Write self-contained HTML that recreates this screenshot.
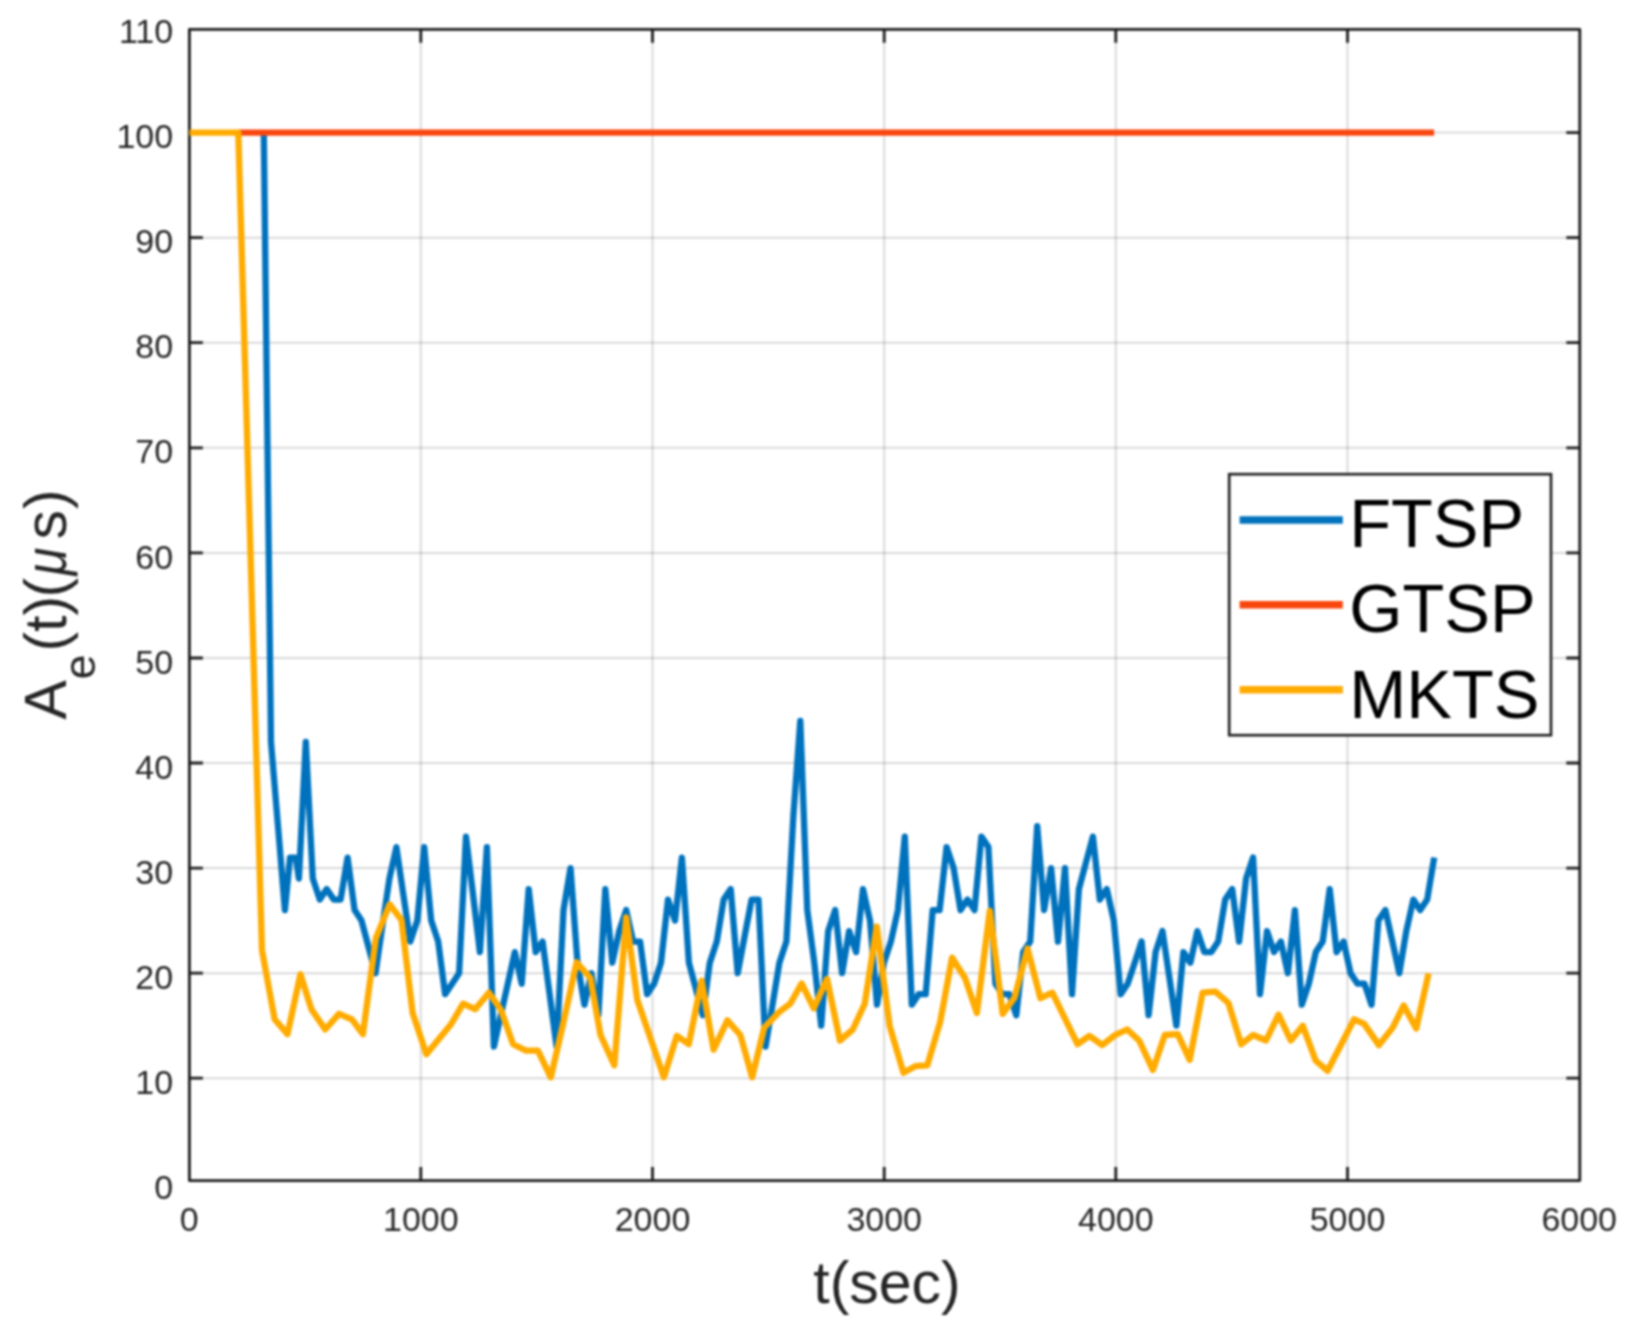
<!DOCTYPE html>
<html lang="en"><head><meta charset="utf-8"><title>Synchronization error: FTSP vs GTSP vs MKTS</title>
<style>html,body{margin:0;padding:0;background:#fff}svg{display:block}text{font-family:"Liberation Sans",Arial,Helvetica,sans-serif}</style></head><body>
<svg width="1632" height="1332" viewBox="0 0 1632 1332">
<defs><filter id="soft" x="0" y="0" width="1632" height="1332" filterUnits="userSpaceOnUse"><feGaussianBlur stdDeviation="0.75"/></filter></defs>
<rect width="1632" height="1332" fill="#fff"/>
<g style="filter:blur(0.8px)">
<rect width="1632" height="1332" fill="#fff"/>
<g stroke="#000" stroke-opacity="0.15" stroke-width="2" fill="none">
<line x1="420.8" y1="29.3" x2="420.8" y2="1180.6"/>
<line x1="652.5" y1="29.3" x2="652.5" y2="1180.6"/>
<line x1="884.2" y1="29.3" x2="884.2" y2="1180.6"/>
<line x1="1115.8" y1="29.3" x2="1115.8" y2="1180.6"/>
<line x1="1347.5" y1="29.3" x2="1347.5" y2="1180.6"/>
<line x1="189.4" y1="1078.2" x2="1579.8" y2="1078.2"/>
<line x1="189.4" y1="973.2" x2="1579.8" y2="973.2"/>
<line x1="189.4" y1="868.1" x2="1579.8" y2="868.1"/>
<line x1="189.4" y1="763.0" x2="1579.8" y2="763.0"/>
<line x1="189.4" y1="658.0" x2="1579.8" y2="658.0"/>
<line x1="189.4" y1="552.9" x2="1579.8" y2="552.9"/>
<line x1="189.4" y1="447.8" x2="1579.8" y2="447.8"/>
<line x1="189.4" y1="342.7" x2="1579.8" y2="342.7"/>
<line x1="189.4" y1="237.7" x2="1579.8" y2="237.7"/>
<line x1="189.4" y1="132.6" x2="1579.8" y2="132.6"/>
</g>
<g stroke="#1c1c1c" stroke-width="2.8" fill="none" stroke-linejoin="round">
<rect x="189.4" y="29.3" width="1390.4" height="1151.3"/>
<path d="M420.8,1180.6v-13.5 M420.8,29.3v13.5"/>
<path d="M652.5,1180.6v-13.5 M652.5,29.3v13.5"/>
<path d="M884.2,1180.6v-13.5 M884.2,29.3v13.5"/>
<path d="M1115.8,1180.6v-13.5 M1115.8,29.3v13.5"/>
<path d="M1347.5,1180.6v-13.5 M1347.5,29.3v13.5"/>
<path d="M189.4,1078.2h13.5 M1579.8,1078.2h-13.5"/>
<path d="M189.4,973.2h13.5 M1579.8,973.2h-13.5"/>
<path d="M189.4,868.1h13.5 M1579.8,868.1h-13.5"/>
<path d="M189.4,763.0h13.5 M1579.8,763.0h-13.5"/>
<path d="M189.4,658.0h13.5 M1579.8,658.0h-13.5"/>
<path d="M189.4,552.9h13.5 M1579.8,552.9h-13.5"/>
<path d="M189.4,447.8h13.5 M1579.8,447.8h-13.5"/>
<path d="M189.4,342.7h13.5 M1579.8,342.7h-13.5"/>
<path d="M189.4,237.7h13.5 M1579.8,237.7h-13.5"/>
<path d="M189.4,132.6h13.5 M1579.8,132.6h-13.5"/>
</g>
<g fill="none" stroke-width="6.3" stroke-linejoin="round" stroke-linecap="butt">
<polyline stroke="#0072BD" points="263.8,132.6 271.0,742.0 278.0,826.1 284.9,910.1 290.0,857.6 295.8,857.6 298.9,878.6 305.8,742.0 312.8,878.6 319.8,899.6 326.7,889.1 333.7,899.6 340.6,899.6 347.6,857.6 354.6,910.1 361.5,920.6 368.5,946.9 375.5,973.2 382.4,925.9 389.4,878.6 396.4,847.1 403.3,894.4 410.3,941.6 417.3,920.6 424.2,847.1 431.2,920.6 438.2,941.6 445.1,994.2 452.1,983.7 459.1,973.2 466.0,836.6 473.0,894.4 479.9,952.1 486.9,847.1 493.9,1046.7 500.8,1015.2 507.8,983.7 514.8,952.1 521.7,983.7 528.7,889.1 535.7,952.1 542.6,941.6 549.6,994.2 556.6,1046.7 563.5,910.1 570.5,868.1 577.5,962.7 584.4,1004.7 591.4,973.2 598.4,1015.2 605.3,889.1 612.3,962.7 619.2,931.1 626.2,910.1 633.2,941.6 640.1,941.6 647.1,994.2 654.1,983.7 661.0,962.7 668.0,899.6 675.0,920.6 681.9,857.6 688.9,962.7 695.9,988.9 702.8,1015.2 709.8,962.7 716.8,941.6 723.7,899.6 730.7,889.1 737.7,973.2 744.6,936.4 751.6,899.6 758.5,899.6 765.5,1046.7 772.5,1004.7 779.4,962.7 786.4,941.6 793.4,815.6 800.3,721.0 807.3,910.1 814.3,962.7 821.2,1025.7 828.2,931.1 835.2,910.1 842.1,973.2 849.1,931.1 856.1,952.1 863.0,889.1 870.0,920.6 877.0,1004.7 883.9,962.7 890.9,941.6 897.9,910.1 904.8,836.6 911.8,1004.7 918.7,994.2 925.7,994.2 932.7,910.1 939.6,910.1 946.6,847.1 953.6,868.1 960.5,910.1 967.5,899.6 974.5,910.1 981.4,836.6 988.4,847.1 995.4,983.7 1002.3,994.2 1009.3,994.2 1016.3,1015.2 1023.2,952.1 1030.2,941.6 1037.2,826.1 1044.1,910.1 1051.1,868.1 1058.0,941.6 1065.0,868.1 1072.0,994.2 1078.9,889.1 1085.9,862.8 1092.9,836.6 1099.8,899.6 1106.8,889.1 1113.8,920.6 1120.7,994.2 1127.7,983.7 1134.7,962.7 1141.6,941.6 1148.6,1015.2 1155.6,952.1 1162.5,931.1 1169.5,978.4 1176.4,1025.7 1183.4,952.1 1190.4,962.7 1197.3,931.1 1204.3,952.1 1211.3,952.1 1218.2,941.6 1225.2,899.6 1232.2,889.1 1239.1,941.6 1246.1,878.6 1253.1,857.6 1260.0,994.2 1267.0,931.1 1274.0,952.1 1280.9,941.6 1287.9,973.2 1294.9,910.1 1301.8,1004.7 1308.8,983.7 1315.8,952.1 1322.7,941.6 1329.7,889.1 1336.6,952.1 1343.6,941.6 1350.6,973.2 1357.5,983.7 1364.5,983.7 1371.5,1004.7 1378.4,920.6 1385.4,910.1 1392.4,941.6 1399.3,973.2 1406.3,931.1 1413.3,899.6 1420.2,910.1 1427.2,899.6 1434.2,857.6"/>
<polyline stroke="#F8460D" points="238,132.6 1434.1,132.6"/>
<polyline stroke="#FFAB00" points="189.4,132.6 238.3,132.6 262.0,950.2 274.6,1019.3 287.5,1034.1 300.4,974.3 311.4,1009.2 325.2,1029.5 339.0,1013.8 351.9,1019.3 362.9,1034.1 375.8,938.4 389.6,904.4 401.5,920.0 412.6,1012.9 426.4,1054.3 451.2,1023.9 463.1,1003.7 475.1,1009.2 488.9,992.7 500.8,1009.5 513.1,1044.2 526.0,1050.6 537.9,1050.6 550.8,1077.3 563.7,1021.2 576.6,962.3 590.4,978.0 600.5,1035.0 614.3,1065.3 626.2,917.3 637.3,1000.0 663.9,1077.3 676.8,1035.9 688.8,1044.2 701.6,980.7 713.6,1049.7 727.4,1020.3 740.3,1035.0 752.2,1077.3 764.2,1027.6 779.2,1012.0 790.2,1003.7 801.6,983.5 813.8,1008.3 827.0,978.9 839.9,1040.5 852.8,1029.5 864.7,1003.7 876.7,926.5 889.6,1025.8 903.4,1072.7 915.3,1066.2 927.3,1065.3 940.1,1022.1 952.1,957.7 965.0,978.0 976.9,1012.9 989.8,910.8 1002.7,1013.8 1014.6,997.3 1027.5,948.5 1040.4,998.2 1052.3,992.7 1077.5,1044.2 1089.4,1035.9 1102.3,1045.1 1115.2,1035.0 1127.1,1029.5 1139.1,1040.5 1152.9,1069.9 1164.8,1035.0 1177.7,1034.1 1189.7,1059.8 1202.6,992.7 1215.4,991.7 1228.3,1002.8 1241.2,1044.2 1253.1,1035.0 1266.0,1040.5 1278.5,1014.7 1290.8,1040.5 1302.8,1025.8 1315.7,1060.7 1327.6,1070.8 1354.1,1019.3 1364.2,1023.9 1378.9,1045.1 1392.7,1027.6 1403.7,1005.5 1416.2,1028.5 1428.6,973.4"/>
</g>
<g fill="#262626" font-size="34">
<g text-anchor="end">
<text x="173.2" y="1198.9">0</text>
<text x="173.2" y="1093.8">10</text>
<text x="173.2" y="988.8">20</text>
<text x="173.2" y="883.7">30</text>
<text x="173.2" y="778.6">40</text>
<text x="173.2" y="673.6">50</text>
<text x="173.2" y="568.5">60</text>
<text x="173.2" y="463.4">70</text>
<text x="173.2" y="358.3">80</text>
<text x="173.2" y="253.3">90</text>
<text x="173.2" y="148.2">100</text>
<text x="173.2" y="43.1">110</text>
</g><g text-anchor="middle">
<text x="189.1" y="1231.3">0</text>
<text x="420.8" y="1231.3">1000</text>
<text x="652.5" y="1231.3">2000</text>
<text x="884.2" y="1231.3">3000</text>
<text x="1115.8" y="1231.3">4000</text>
<text x="1347.5" y="1231.3">5000</text>
<text x="1579.2" y="1231.3">6000</text>
</g></g>
<g fill="#262626" font-size="59">
<text x="887" y="1303" text-anchor="middle">t(sec)</text>
<g transform="translate(66,718.5) rotate(-90)">
<text x="-1" y="0" font-size="59">A</text>
<text x="39" y="29.3" font-size="45">e</text>
<text x="67" y="0" font-size="59">(</text>
<text x="86.5" y="0" font-size="59">t</text>
<text x="103" y="0" font-size="59">)</text>
<text x="121" y="0" font-size="59">(</text>
<text transform="translate(143,0) scale(0.86,1)" font-size="59" font-family="'Liberation Serif','DejaVu Serif',serif" font-style="italic">μ</text>
<text x="179" y="0" font-size="59">s</text>
<text x="209.5" y="0" font-size="59">)</text>
</g>
</g>
<rect x="1229.2" y="474.2" width="321.8" height="261.0" fill="#fff" stroke="#1c1c1c" stroke-width="2.6"/>
<g fill="none" stroke-width="7.6">
<line stroke="#0072BD" x1="1239.6" y1="520" x2="1342.8" y2="520"/>
<line stroke="#F8460D" x1="1239.6" y1="604.8" x2="1342.8" y2="604.8"/>
<line stroke="#FFAB00" x1="1239.6" y1="689.7" x2="1342.8" y2="689.7"/>
</g>
<g fill="#000" font-size="68.5">
<text x="1349.2" y="547.0">FTSP</text>
<text x="1349.2" y="631.6">GTSP</text>
<text x="1349.2" y="718.4">MKTS</text>
</g>
</g>
</svg></body></html>
